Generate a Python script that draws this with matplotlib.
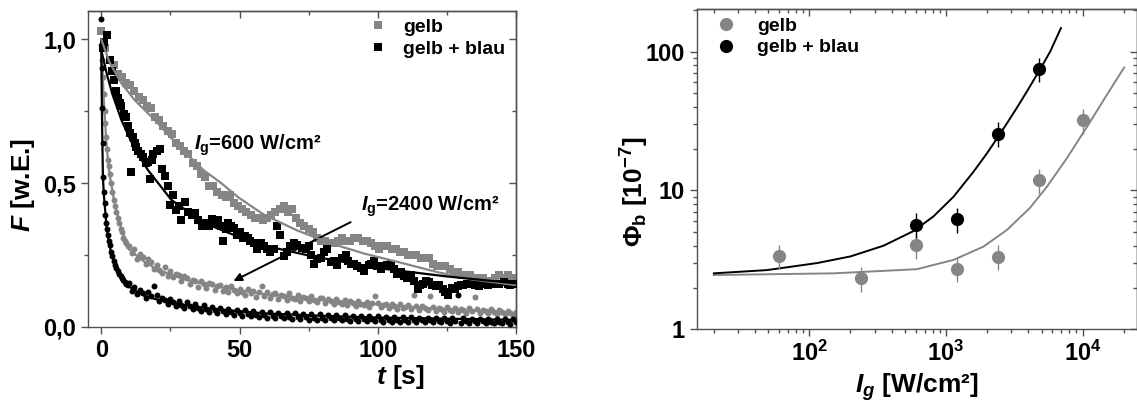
import numpy as np
import matplotlib
matplotlib.use("Agg")
import matplotlib.pyplot as plt
from matplotlib.lines import Line2D
from matplotlib.ticker import LogLocator, NullFormatter, MultipleLocator

plt.rcParams["font.family"] = "Liberation Sans"
plt.rcParams["font.weight"] = "bold"
plt.rcParams["axes.labelweight"] = "bold"
plt.rcParams["mathtext.fontset"] = "custom"
plt.rcParams["mathtext.rm"] = "Liberation Sans:bold"
plt.rcParams["mathtext.it"] = "Liberation Sans:bold:italic"
plt.rcParams["mathtext.bf"] = "Liberation Sans:bold"
plt.rcParams["axes.linewidth"] = 1.0

GRAY = "#858585"
FRAME = "#505050"

# ---- fluorescence decay, I_g = 600 W/cm^2 (squares) ----
t_sq_gelb = np.arange(0, 151, 1.5)
F_sq_gelb = [
    1.03, 0.97, 0.93, 0.91, 0.88, 0.87, 0.85, 0.84, 0.82, 0.80,
    0.79, 0.77, 0.76, 0.73, 0.72, 0.70, 0.68, 0.67, 0.64, 0.63,
    0.61, 0.60, 0.57, 0.56, 0.53, 0.52, 0.49, 0.49, 0.47, 0.46,
    0.45, 0.46, 0.43, 0.42, 0.41, 0.40, 0.39, 0.38, 0.38, 0.37,
    0.38, 0.39, 0.40, 0.41, 0.42, 0.40, 0.41, 0.38, 0.36, 0.35,
    0.34, 0.33, 0.31, 0.30, 0.30, 0.29, 0.29, 0.30, 0.31, 0.30,
    0.30, 0.31, 0.31, 0.30, 0.30, 0.29, 0.28, 0.27, 0.28, 0.28,
    0.27, 0.27, 0.26, 0.26, 0.25, 0.25, 0.25, 0.24, 0.24, 0.24,
    0.22, 0.21, 0.21, 0.21, 0.20, 0.19, 0.19, 0.18, 0.18, 0.18,
    0.17, 0.17, 0.17, 0.16, 0.16, 0.17, 0.18, 0.17, 0.18, 0.17,
    0.17]

# (t, F) pairs, gelb + blau
sq_blau = [
    (0.5, 0.97), (1.0, 0.99), (2.2, 1.015), (3.0, 0.93), (3.8, 0.89), (4.5, 0.86),
    (5.3, 0.82), (6.0, 0.795), (6.7, 0.78), (7.3, 0.77), (8.2, 0.74), (9.1, 0.73),
    (9.7, 0.70), (10.3, 0.675), (10.9, 0.54), (11.5, 0.66), (12.1, 0.64), (12.7, 0.625),
    (13.3, 0.61), (14.2, 0.60), (15.1, 0.59), (16.0, 0.57), (16.9, 0.575), (17.5, 0.515),
    (18.2, 0.58), (18.8, 0.60), (20.0, 0.61), (21.2, 0.62), (22.1, 0.55), (23.0, 0.525),
    (24.2, 0.49), (24.8, 0.425), (26.0, 0.46), (27.2, 0.405), (28.1, 0.42), (29.0, 0.37),
    (30.2, 0.435), (31.5, 0.40), (32.7, 0.39), (33.9, 0.395), (35.1, 0.37), (36.3, 0.35),
    (37.8, 0.36), (38.9, 0.35), (39.9, 0.375), (41.1, 0.36), (42.3, 0.37), (43.2, 0.35),
    (44.1, 0.30), (45.1, 0.34), (46.0, 0.36), (47.0, 0.35), (47.9, 0.345), (49.1, 0.32),
    (50.3, 0.33), (51.2, 0.31), (52.0, 0.315), (53.0, 0.31), (53.9, 0.30), (55.2, 0.29),
    (56.4, 0.27), (57.6, 0.29), (58.8, 0.28), (60.0, 0.27), (61.2, 0.26), (62.4, 0.27),
    (63.6, 0.35), (64.5, 0.32), (66.0, 0.245), (67.2, 0.26), (68.4, 0.28), (69.6, 0.29),
    (70.9, 0.285), (72.5, 0.275), (73.9, 0.27), (75.1, 0.28), (76.0, 0.25), (76.9, 0.22),
    (78.1, 0.235), (79.3, 0.24), (80.5, 0.26), (81.8, 0.27), (83.0, 0.225), (84.2, 0.23),
    (85.4, 0.215), (87.0, 0.24), (88.4, 0.25), (89.3, 0.23), (90.2, 0.22), (91.4, 0.22),
    (92.6, 0.21), (93.8, 0.205), (95.0, 0.195), (96.8, 0.215), (97.7, 0.22), (98.7, 0.23),
    (99.9, 0.21), (101.1, 0.20), (102.3, 0.21), (103.5, 0.215), (104.7, 0.22), (105.9, 0.20),
    (107.1, 0.185), (108.3, 0.19), (109.5, 0.175), (110.7, 0.17), (112.0, 0.18), (113.2, 0.16),
    (114.4, 0.13), (115.3, 0.145), (116.2, 0.15), (117.4, 0.16), (118.6, 0.155), (119.8, 0.145),
    (121.0, 0.14), (122.2, 0.145), (123.5, 0.13), (124.4, 0.12), (125.3, 0.11), (127.0, 0.135),
    (128.0, 0.13), (128.9, 0.14), (130.0, 0.145), (131.0, 0.145), (132.3, 0.15), (133.7, 0.15),
    (135.0, 0.145), (136.5, 0.14), (138.0, 0.15), (139.8, 0.145), (141.2, 0.15), (142.5, 0.15),
    (144.0, 0.15), (145.8, 0.155), (147.0, 0.15), (148.0, 0.145), (149.4, 0.15)]

# ---- fluorescence decay, I_g = 2400 W/cm^2 (circles) ----
t_fast_gelb = [0, 0.3, 0.6, 0.9, 1.2, 1.5, 1.8, 2.1, 2.4, 2.7, 3.0, 3.5,
               4.0, 4.5, 5.0, 5.5, 6.0, 6.5, 7.0, 7.5, 8.0, 8.5, 9.0, 9.5]
F_fast_gelb = [0.98, 0.93, 0.87, 0.81, 0.75, 0.71, 0.66, 0.62, 0.58, 0.56, 0.53, 0.50,
               0.47, 0.44, 0.42, 0.40, 0.38, 0.36, 0.34, 0.33, 0.31, 0.30, 0.29, 0.28]
t_fast_blau = [0, 0.15, 0.3, 0.45, 0.6, 0.9, 1.2, 1.5, 1.8, 2.1, 2.4, 2.7, 3.0,
               3.5, 4.0, 4.5, 5.0, 5.5, 6.0, 6.5, 7.0, 7.5, 8.0, 8.5, 9.0, 9.5]
F_fast_blau = [1.07, 0.90, 0.76, 0.64, 0.52, 0.47, 0.43, 0.39, 0.36, 0.34, 0.32, 0.30, 0.285,
               0.26, 0.245, 0.23, 0.215, 0.205, 0.195, 0.185, 0.178, 0.17, 0.163, 0.157, 0.15, 0.145]
t_slow = np.arange(10, 151)
F_slow_gelb = [
    0.282, 0.258, 0.27, 0.236, 0.252, 0.242, 0.219, 0.236, 0.226, 0.201,
    0.214, 0.196, 0.186, 0.207, 0.178, 0.193, 0.172, 0.184, 0.18, 0.16,
    0.176, 0.168, 0.15, 0.164, 0.158, 0.139, 0.16, 0.15, 0.136, 0.152,
    0.148, 0.128, 0.142, 0.146, 0.125, 0.138, 0.121, 0.141, 0.129, 0.116,
    0.133, 0.122, 0.109, 0.13, 0.119, 0.125, 0.104, 0.121, 0.142, 0.107,
    0.122, 0.1, 0.114, 0.118, 0.097, 0.112, 0.108, 0.094, 0.116, 0.101,
    0.096, 0.112, 0.091, 0.105, 0.099, 0.088, 0.107, 0.094, 0.085, 0.101,
    0.099, 0.083, 0.095, 0.089, 0.078, 0.097, 0.086, 0.08, 0.093, 0.076,
    0.088, 0.084, 0.072, 0.09, 0.079, 0.074, 0.087, 0.069, 0.082, 0.106,
    0.083, 0.068, 0.076, 0.08, 0.064, 0.078, 0.071, 0.062, 0.079, 0.066,
    0.07, 0.076, 0.06, 0.11, 0.073, 0.058, 0.072, 0.065, 0.057, 0.108,
    0.069, 0.055, 0.066, 0.062, 0.052, 0.069, 0.058, 0.054, 0.066, 0.05,
    0.063, 0.058, 0.049, 0.064, 0.055, 0.104, 0.06, 0.047, 0.058, 0.053,
    0.046, 0.06, 0.051, 0.044, 0.057, 0.05, 0.043, 0.055, 0.049, 0.042, 0.052]
F_slow_blau = [
    0.152, 0.126, 0.138, 0.113, 0.128, 0.119, 0.101, 0.121, 0.106, 0.14,
    0.112, 0.089, 0.101, 0.094, 0.079, 0.098, 0.085, 0.072, 0.091, 0.077,
    0.066, 0.085, 0.071, 0.06, 0.079, 0.065, 0.055, 0.074, 0.061, 0.05,
    0.07, 0.057, 0.046, 0.066, 0.053, 0.043, 0.062, 0.05, 0.041, 0.059,
    0.047, 0.038, 0.057, 0.044, 0.036, 0.055, 0.042, 0.034, 0.052, 0.04,
    0.032, 0.051, 0.038, 0.03, 0.049, 0.037, 0.029, 0.047, 0.035, 0.028,
    0.046, 0.034, 0.026, 0.045, 0.033, 0.025, 0.044, 0.032, 0.024, 0.043,
    0.031, 0.024, 0.042, 0.03, 0.023, 0.041, 0.029, 0.022, 0.04, 0.028,
    0.021, 0.039, 0.027, 0.02, 0.038, 0.027, 0.02, 0.037, 0.026, 0.019,
    0.036, 0.025, 0.018, 0.035, 0.025, 0.018, 0.034, 0.024, 0.017, 0.034,
    0.023, 0.017, 0.033, 0.023, 0.016, 0.032, 0.022, 0.016, 0.032, 0.022,
    0.015, 0.031, 0.021, 0.015, 0.03, 0.021, 0.014, 0.03, 0.02, 0.11,
    0.014, 0.029, 0.02, 0.013, 0.028, 0.019, 0.013, 0.028, 0.019, 0.012,
    0.027, 0.018, 0.012, 0.027, 0.018, 0.012, 0.026, 0.017, 0.011, 0.026, 0.017]

# fit curves of the decays
t_fit_600_gelb = [0, 3, 7.3, 12, 19.4, 25, 31.4, 37, 43.5, 49.6, 58.8, 70.9, 83, 95, 109.5, 121.6, 133.7, 150]
F_fit_600_gelb = [1.0, 0.92, 0.847, 0.79, 0.719, 0.66, 0.597, 0.545, 0.499, 0.45, 0.39, 0.335, 0.29, 0.255, 0.22, 0.19, 0.165, 0.145]
t_fit_600_blau = [0, 2, 4, 7.3, 12, 16.9, 25.4, 37.5, 49.6, 60, 76.9, 101, 125, 150]
F_fit_600_blau = [0.963, 0.88, 0.81, 0.719, 0.62, 0.545, 0.441, 0.36, 0.313, 0.28, 0.244, 0.203, 0.175, 0.151]
t_fit_2400_gelb = [0, 1, 2, 3, 5, 7, 10, 15, 20, 30, 40, 60, 80, 100, 125, 150]
F_fit_2400_gelb = [0.99, 0.77, 0.62, 0.53, 0.42, 0.35, 0.27, 0.23, 0.2, 0.165, 0.142, 0.112, 0.093, 0.078, 0.06, 0.048]
t_fit_2400_blau = [0, 0.3, 0.6, 1, 2, 3, 5, 7, 10, 15, 20, 30, 40, 60, 80, 100, 150]
F_fit_2400_blau = [0.96, 0.70, 0.52, 0.45, 0.34, 0.28, 0.21, 0.175, 0.14, 0.11, 0.095, 0.075, 0.062, 0.046, 0.038, 0.032, 0.024]

# ---- bleaching quantum yield vs. yellow intensity ----
I_gelb = [60, 240, 600, 1200, 2400, 4800, 10000]
phi_gelb = [3.38, 2.33, 4.02, 2.74, 3.34, 11.9, 32.1]
phi_gelb_lo = [2.71, 1.85, 3.22, 2.2, 2.67, 9.5, 25.6]
phi_gelb_hi = [4.07, 2.79, 4.86, 3.3, 4.04, 14.2, 38.6]

I_blau = [600, 1200, 2400, 4800]
phi_blau = [5.67, 6.23, 25.7, 74.5]
phi_blau_lo = [4.55, 4.98, 20.7, 60.0]
phi_blau_hi = [6.86, 7.5, 30.9, 89.9]

I_fit_gelb = [20, 151, 612, 1133, 1878, 2786, 4120, 5460, 7640, 10700, 14970, 20140]
phi_fit_gelb = [2.46, 2.53, 2.71, 3.16, 3.94, 5.19, 7.5, 10.6, 17.0, 28.5, 48.5, 77.0]
I_fit_blau = [20, 49, 114, 200, 349, 578, 809, 1133, 1585, 2000, 2355, 2800, 3300, 3900,
              4610, 5200, 5770, 6940]
phi_fit_blau = [2.53, 2.67, 3.0, 3.35, 4.0, 5.1, 6.5, 9.0, 13.6, 18.6, 23.6, 30.6, 39.4, 51.5,
                67.9, 83.3, 99.6, 148]


def style_frame(ax):
    for s in ax.spines.values():
        s.set_color(FRAME)
    ax.tick_params(which="both", direction="out", colors=FRAME, labelcolor="black",
                   labelsize=17, width=1)
    ax.tick_params(which="major", length=5)
    ax.tick_params(which="minor", length=3)


def log_minor(axis):
    axis.set_minor_locator(LogLocator(base=10, subs=np.arange(2, 10)))
    axis.set_minor_formatter(NullFormatter())


fig = plt.figure(figsize=(11.37, 4.03), dpi=100)

# left panel: decay curves
t_sq_blau, F_sq_blau = np.array(sq_blau).T
ax1 = fig.add_axes([0.0774, 0.1893, 0.3764, 0.7841])
h_gs, = ax1.plot(t_sq_gelb, F_sq_gelb, "s", color=GRAY, ms=5.5, mew=0, zorder=2)
h_bs, = ax1.plot(t_sq_blau, F_sq_blau, "s", color="black", ms=5.5, mew=0, zorder=3)
ax1.plot(t_fast_gelb, F_fast_gelb, "o", color=GRAY, ms=4.3, mew=0, zorder=2)
ax1.plot(t_slow, F_slow_gelb, "o", color=GRAY, ms=4.3, mew=0, zorder=2)
ax1.plot(t_fast_blau, F_fast_blau, "o", color="black", ms=4.3, mew=0, zorder=3)
ax1.plot(t_slow, F_slow_blau, "o", color="black", ms=4.3, mew=0, zorder=3)
ax1.plot(t_fit_600_gelb, F_fit_600_gelb, color=GRAY, lw=1.6, zorder=4)
ax1.plot(t_fit_2400_gelb, F_fit_2400_gelb, color=GRAY, lw=1.6, zorder=1)
ax1.plot(t_fit_600_blau, F_fit_600_blau, color="black", lw=1.6, zorder=4)
ax1.plot(t_fit_2400_blau, F_fit_2400_blau, color="black", lw=1.6, zorder=4)

ax1.set_xlim(-4.8, 150)
ax1.set_ylim(0, 1.1)
ax1.set_xticks([0, 50, 100, 150])
ax1.set_yticks([0, 0.5, 1.0])
ax1.set_yticklabels(["0,0", "0,5", "1,0"])
ax1.xaxis.set_minor_locator(MultipleLocator(25))
ax1.yaxis.set_minor_locator(MultipleLocator(0.25))
style_frame(ax1)
top1 = ax1.secondary_xaxis("top")
top1.set_xticks([0, 50, 100, 150], labels=[])
top1.xaxis.set_minor_locator(MultipleLocator(25))
right1 = ax1.secondary_yaxis("right")
right1.set_yticks([0, 0.5, 1.0], labels=[])
right1.yaxis.set_minor_locator(MultipleLocator(0.25))
for sec in (top1, right1):
    style_frame(sec)
    sec.tick_params(which="both", direction="in")

ax1.set_xlabel(r"$t$ [s]", fontsize=19)
ax1.xaxis.set_label_coords(0.729, -0.115)
ax1.set_ylabel(r"$F$ [w.E.]", fontsize=19)
ax1.yaxis.set_label_coords(-0.12, 0.45)

ax1.text(33.7, 0.63, r"$I_{\mathrm{g}}$=600 W/cm²", fontsize=14.5, va="center")
ax1.text(93.8, 0.42, r"$I_{\mathrm{g}}$=2400 W/cm²", fontsize=14.5, va="center")
ax1.annotate("", xy=(47.8, 0.159), xytext=(90.2, 0.364),
             arrowprops=dict(arrowstyle="-|>", color="black", lw=1.4,
                             mutation_scale=12, shrinkA=0, shrinkB=0))

ax1.legend([h_gs, h_bs], ["gelb", "gelb + blau"], loc="upper left",
           bbox_to_anchor=(0.655, 0.975), frameon=False, fontsize=14,
           handlelength=1.0, handletextpad=0.8, labelspacing=0.2,
           borderaxespad=0, borderpad=0)

# right panel: quantum yield
ax2 = fig.add_axes([0.6128, 0.1829, 0.3868, 0.794])
ax2.set_xscale("log")
ax2.set_yscale("log")
ax2.plot(I_fit_gelb, phi_fit_gelb, color=GRAY, lw=1.4, zorder=2)
ax2.plot(I_fit_blau, phi_fit_blau, color="black", lw=1.4, zorder=2)
err_g = [np.subtract(phi_gelb, phi_gelb_lo), np.subtract(phi_gelb_hi, phi_gelb)]
err_b = [np.subtract(phi_blau, phi_blau_lo), np.subtract(phi_blau_hi, phi_blau)]
ax2.errorbar(I_gelb, phi_gelb, yerr=err_g, fmt="o", color=GRAY, ms=9.5, mew=0,
             ecolor=GRAY, elinewidth=1.0, capsize=4.5, capthick=1.0, zorder=3)
ax2.errorbar(I_blau, phi_blau, yerr=err_b, fmt="o", color="black", ms=9.5, mew=0,
             ecolor="black", elinewidth=1.0, capsize=4.5, capthick=1.0, zorder=4)

ax2.set_xlim(15, 24800)
ax2.set_ylim(1, 202)
ax2.set_xticks([100, 1000, 10000])
ax2.set_xticklabels([r"$10^2$", r"$10^3$", r"$10^4$"])
ax2.set_yticks([1, 10, 100])
ax2.set_yticklabels(["1", "10", "100"])
log_minor(ax2.xaxis)
log_minor(ax2.yaxis)
style_frame(ax2)
top2 = ax2.secondary_xaxis("top")
top2.set_xticks([100, 1000, 10000], labels=[])
log_minor(top2.xaxis)
right2 = ax2.secondary_yaxis("right")
right2.set_yticks([1, 10, 100], labels=[])
log_minor(right2.yaxis)
for sec in (top2, right2):
    style_frame(sec)
    sec.tick_params(which="both", direction="in")

ax2.set_xlabel(r"$I_g$ [W/cm²]", fontsize=19)
ax2.xaxis.set_label_coords(0.50, -0.13)
ax2.set_ylabel(r"$\Phi_{\mathrm{b}}$ [10$^{-7}$]", fontsize=19)
ax2.yaxis.set_label_coords(-0.105, 0.43)

legend_dots = [Line2D([], [], ls="none", marker="o", ms=9.5, mew=0, color=GRAY),
               Line2D([], [], ls="none", marker="o", ms=9.5, mew=0, color="black")]
ax2.legend(legend_dots, ["gelb", "gelb + blau"], loc="upper left",
           bbox_to_anchor=(0.045, 0.975), frameon=False, fontsize=14,
           handlelength=1.0, handletextpad=1.1, labelspacing=0.2,
           borderaxespad=0, borderpad=0)

fig.savefig("out.png", dpi=100)
